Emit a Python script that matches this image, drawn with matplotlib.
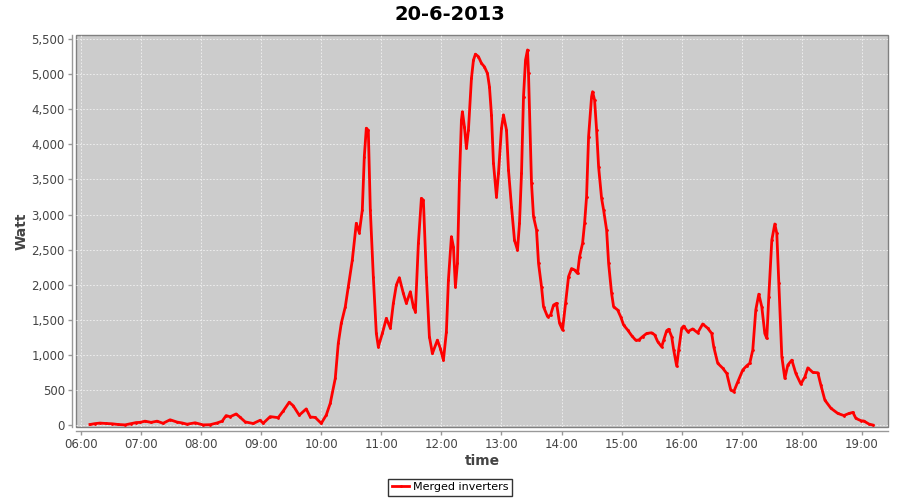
import numpy as np
import pandas as pd
import matplotlib
matplotlib.use("Agg")
import matplotlib.pyplot as plt
import matplotlib.dates as mdates
from matplotlib.ticker import FuncFormatter, MultipleLocator

title = "20-6-2013"
series_name = "Merged inverters"

times = [
    "06:09", "06:14", "06:19", "06:25", "06:31", "06:37", "06:44", "06:50", "06:55", "06:59",
    "07:04", "07:10", "07:16", "07:22", "07:29", "07:36", "07:41", "07:46", "07:54", "08:02",
    "08:09", "08:16", "08:21", "08:25", "08:29", "08:35", "08:39", "08:44", "08:52", "08:59",
    "09:02", "09:09", "09:17", "09:22", "09:28", "09:32", "09:38", "09:45", "09:49", "09:54",
    "10:00", "10:05", "10:09", "10:14", "10:17", "10:20", "10:24", "10:27", "10:31", "10:35",
    "10:38", "10:41", "10:43", "10:45", "10:47", "10:49", "10:52", "10:55", "10:57", "11:01",
    "11:05", "11:09", "11:12", "11:15", "11:18", "11:22", "11:25", "11:29", "11:32", "11:34",
    "11:37", "11:40", "11:42", "11:45", "11:48", "11:51", "11:56", "11:59", "12:02", "12:05",
    "12:07", "12:10", "12:12", "12:14", "12:16", "12:18", "12:20", "12:21", "12:23", "12:25",
    "12:27", "12:30", "12:32", "12:34", "12:37", "12:40", "12:43", "12:46", "12:48", "12:50",
    "12:52", "12:55", "12:57", "13:00", "13:02", "13:05", "13:07", "13:10", "13:13", "13:16",
    "13:18", "13:20", "13:22", "13:24", "13:26", "13:27", "13:30", "13:32", "13:35", "13:37",
    "13:40", "13:42", "13:46", "13:49", "13:52", "13:55", "13:58", "14:01", "14:04", "14:07",
    "14:10", "14:13", "14:16", "14:18", "14:21", "14:23", "14:25", "14:27", "14:30", "14:31",
    "14:33", "14:35", "14:37", "14:40", "14:42", "14:45", "14:47", "14:50", "14:52", "14:56",
    "14:59", "15:02", "15:06", "15:10", "15:14", "15:17", "15:21", "15:25", "15:30", "15:33",
    "15:36", "15:40", "15:42", "15:45", "15:47", "15:50", "15:52", "15:55", "15:57", "16:00",
    "16:02", "16:06", "16:11", "16:16", "16:21", "16:26", "16:30", "16:32", "16:36", "16:41",
    "16:45", "16:49", "16:52", "16:56", "17:01", "17:05", "17:08", "17:11", "17:14", "17:17",
    "17:20", "17:23", "17:25", "17:27", "17:30", "17:33", "17:35", "17:37", "17:40", "17:43",
    "17:46", "17:50", "17:54", "17:59", "18:03", "18:06", "18:11", "18:16", "18:19", "18:23",
    "18:29", "18:36", "18:42", "18:47", "18:51", "18:54", "18:59", "19:02", "19:07", "19:11",
]

watts = [
    8, 20, 28, 22, 18, 8, 2, 20, 35, 38,
    55, 38, 55, 25, 75, 42, 30, 12, 32, 2,
    5, 30, 55, 135, 118, 158, 110, 45, 22, 68,
    25, 120, 105, 200, 325, 275, 140, 230, 115, 108,
    24, 142, 310, 665, 1165, 1450, 1685, 1970, 2350, 2875,
    2740, 3065, 3825, 4230, 4200, 3065, 2115, 1305, 1115, 1305,
    1520, 1380, 1735, 1995, 2100, 1875, 1735, 1900, 1685, 1615,
    2590, 3230, 3205, 2115, 1260, 1020, 1210, 1090, 925, 1330,
    2065, 2685, 2540, 1970, 2305, 3490, 4345, 4465, 4250, 3945,
    4205, 4940, 5200, 5285, 5250, 5155, 5105, 5010, 4820, 4420,
    3730, 3255, 3585, 4230, 4420, 4205, 3635, 3110, 2635, 2495,
    2875, 3585, 4680, 5200, 5345, 5010, 3445, 2970, 2780, 2305,
    1970, 1685, 1545, 1565, 1710, 1735, 1450, 1355, 1735, 2115,
    2230, 2210, 2160, 2400, 2590, 2875, 3255, 4110, 4680, 4750,
    4630, 4205, 3680, 3230, 3065, 2780, 2305, 1875, 1685, 1640,
    1545, 1425, 1355, 1275, 1210, 1210, 1260, 1305, 1315, 1285,
    1190, 1115, 1210, 1345, 1365, 1260, 1070, 840, 1070, 1380,
    1410, 1330, 1370, 1315, 1440, 1380, 1305, 1115, 880, 810,
    735, 500, 475, 615, 785, 845, 880, 1070, 1640, 1865,
    1685, 1305, 1235, 1830, 2635, 2865, 2730, 2020, 975, 665,
    855, 925, 735, 585, 685, 815, 750, 745, 570, 355,
    240, 165, 135, 165, 180, 95, 62, 57, 14, 0,
]

x_start = "05:55"
x_end = "19:26"
y_min, y_max = -28, 5558

day = "2013-06-20 "
t = pd.to_datetime([day + s for s in times])

fig = plt.figure(figsize=(9, 5), dpi=100)
ax = fig.add_axes([0.0844, 0.146, 0.9022, 0.784])
ax.set_facecolor("#cccccc")
ax.patch.set_edgecolor("#808080")
ax.patch.set_linewidth(1)

ax.plot(t, watts, color="#ff0000", linewidth=2, marker=".", markersize=2,
        solid_joinstyle="round", label=series_name, zorder=3)

ax.set_xlim(pd.Timestamp(day + x_start), pd.Timestamp(day + x_end))
ax.set_ylim(y_min, y_max)

ax.xaxis.set_major_locator(mdates.HourLocator())
ax.xaxis.set_major_formatter(mdates.DateFormatter("%H:%M"))
ax.yaxis.set_major_locator(MultipleLocator(500))
ax.yaxis.set_major_formatter(FuncFormatter(lambda v, p: f"{v:,.0f}"))

ax.grid(True, color="#f2f2f2", linestyle=(0, (2, 2)), linewidth=0.6)
ax.set_axisbelow(True)

for s in ["top", "right"]:
    ax.spines[s].set_visible(False)
for s in ["left", "bottom"]:
    ax.spines[s].set_position(("outward", 3))
    ax.spines[s].set_color("#999999")
    ax.spines[s].set_linewidth(1)

ax.tick_params(axis="both", colors="#999999", labelcolor="#444444",
               labelsize=8.5, length=3, width=1, direction="out", pad=2)

ax.set_xlabel("time", fontsize=10, fontweight="bold", color="#444444", labelpad=2)
ax.set_ylabel("Watt", fontsize=10, fontweight="bold", color="#444444", labelpad=2)

fig.suptitle(title, x=0.5, y=0.99, fontsize=14, fontweight="bold")

leg = fig.legend(loc="lower center", bbox_to_anchor=(0.5, 0.0), fontsize=8,
                 frameon=True, fancybox=False, handlelength=1.6,
                 handletextpad=0.3, borderpad=0.3, borderaxespad=0.4)
leg.get_frame().set_edgecolor("black")
leg.get_frame().set_linewidth(1)

fig.savefig("out.png", dpi=100, facecolor="white")
